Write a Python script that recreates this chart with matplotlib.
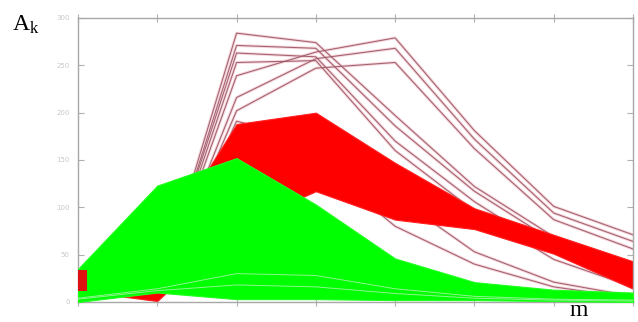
import matplotlib.pyplot as plt
import numpy as np

# m positions along the x axis
m = [1, 2, 3, 4, 5, 6, 7, 8]

# red band (envelope of the red curves)
red_lo = [12, 1, 80, 117, 87, 77, 51, 14]
red_hi = [34, 55, 188, 200, 147, 99, 71, 43]

# green band (envelope of the green curves)
green_lo = [0, 10, 3, 3, 2, 2, 1, 0]
green_hi = [35, 123, 152, 103, 46, 21, 13, 10]

# a few pale curves inside the green band
pale_1 = [3, 12, 18, 16, 9, 4, 2, 1]
pale_2 = [4, 14, 30, 28, 14, 6, 3, 2]

# dark red outlier curves
out_a = [21, 7, 284, 274, 197, 122, 69, 30]
out_b = [21, 7, 271, 268, 186, 117, 64, 24]
out_c = [21, 7, 263, 259, 170, 106, 53, 19]
out_d = [19, 6, 253, 255, 160, 96, 45, 16]
out_f = [19, 6, 239, 264, 279, 181, 101, 71]
out_g = [18, 5, 216, 257, 268, 172, 94, 64]
out_h = [18, 5, 202, 247, 253, 162, 87, 56]
out_i = [17, 4, 191, 170, 112, 53, 21, 6]
out_j = [16, 4, 181, 149, 80, 40, 16, 4]
outliers = [out_a, out_b, out_c, out_d, out_f, out_g, out_h, out_i, out_j]

y_ticks = [0, 50, 100, 150, 200, 250, 300]

plt.rcParams['mathtext.fontset'] = 'custom'
plt.rcParams['mathtext.rm'] = 'Liberation Serif'
plt.rcParams['mathtext.it'] = 'Liberation Serif:italic'

fig = plt.figure(figsize=(6.38, 3.22), dpi=100)
ax = fig.add_axes([78 / 638, 1 - 302 / 322, 555 / 638, 284 / 322])

# outlier curves with a faint pink halo
for line in outliers:
    ax.plot(m, line, color='#f7d8de', lw=2.2, zorder=1)
for line in outliers:
    ax.plot(m, line, color='#96505e', lw=0.8, alpha=0.85, zorder=1.5)

ax.fill_between(m, red_lo, red_hi, color='#ff0000', lw=0.8, edgecolor='#ff2020', zorder=2)
ax.fill_between(m, green_lo, green_hi, color='#00ff00', lw=0.8, edgecolor='#20ff20', zorder=3)
for line in [pale_1, pale_2]:
    ax.plot(m, line, color='#8ff58f', lw=0.7, zorder=3.5)

# red start of curves showing at the left edge
ax.vlines(m[0], red_lo[0], red_hi[0], color='#dd1010', lw=13, zorder=4)

ax.set_xlim(m[0], m[-1])
ax.set_ylim(0, 300)
ax.set_xticks(m)
ax.set_xticklabels([])
ax.set_yticks(y_ticks)
ax.set_yticklabels([str(v) for v in y_ticks], fontsize=5, color='#c8c8c8')
ax.tick_params(axis='y', direction='in', length=4, color='#b0b0b0', right=True, pad=6)
ax.tick_params(axis='x', direction='inout', length=6, color='#b0b0b0', top=True)
for s in ax.spines.values():
    s.set_color('#a8a8a8')
    s.set_linewidth(1.0)

fig.text(12 / 638, 1 - 31 / 322, r'$\mathrm{A_k}$', fontsize=17)
fig.text(570 / 638, 1 - 321 / 322, 'm', fontsize=17, family='Liberation Serif', va='bottom')

fig.savefig('out.png', dpi=100)
plt.close()
